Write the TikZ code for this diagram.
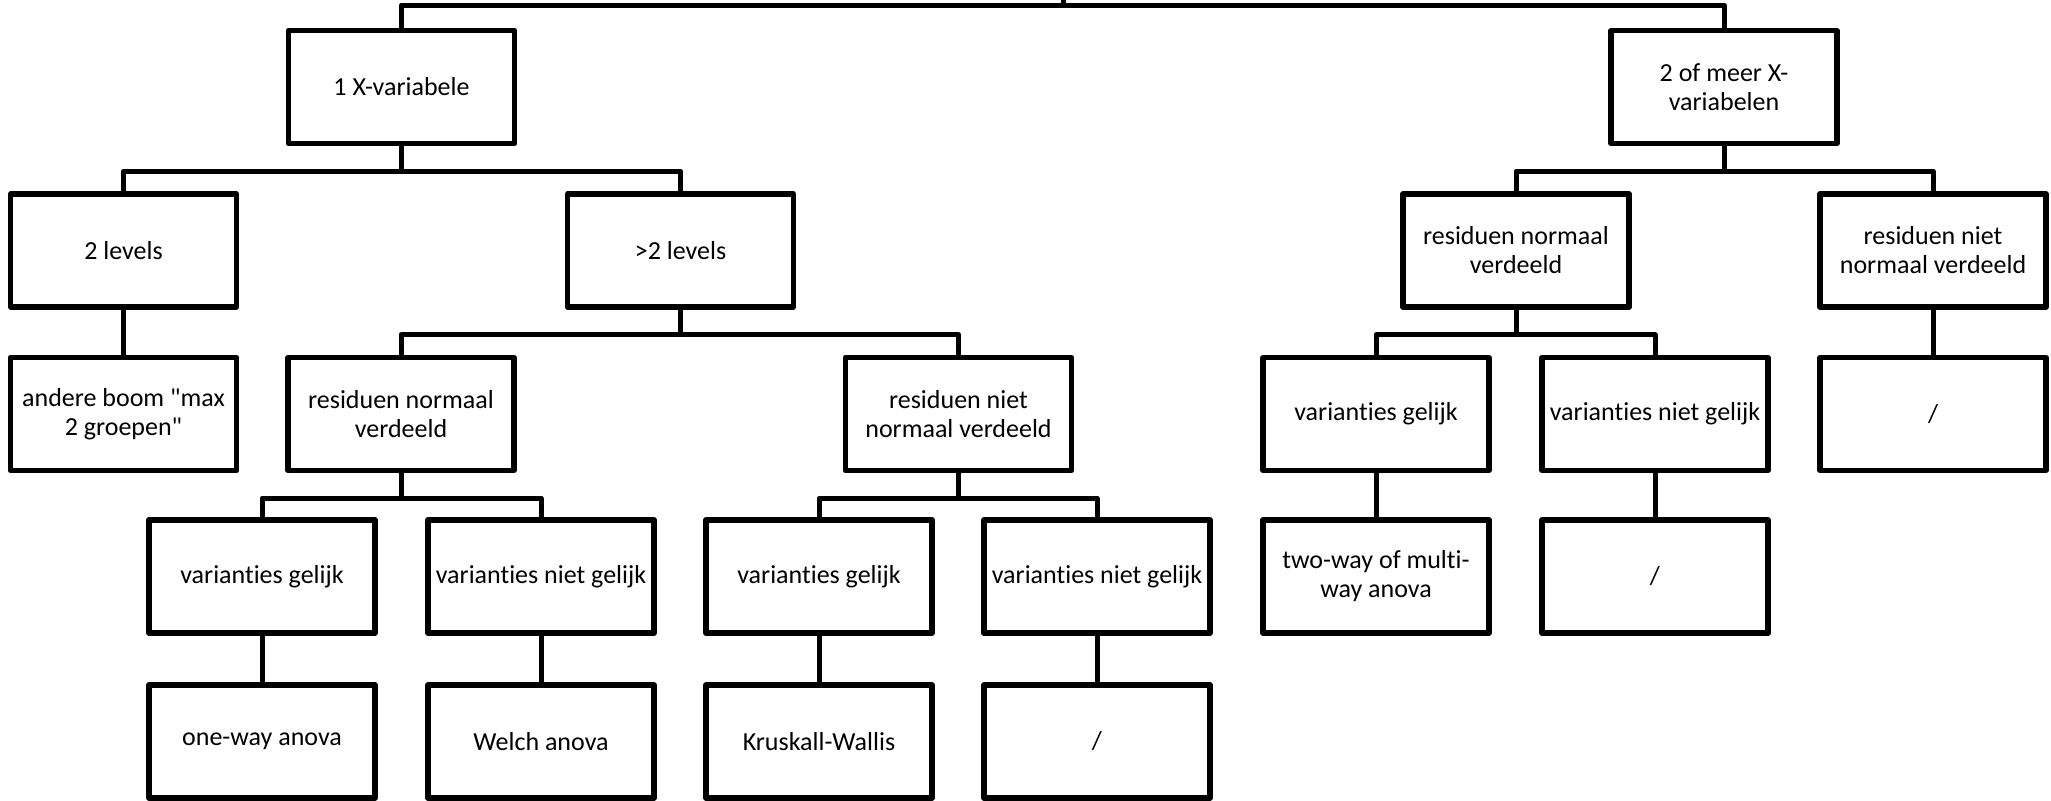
\documentclass[tikz,border=0pt]{standalone}
\usepackage{fontspec}
\setmainfont{Carlito}[Ligatures=NoCommon]
\usetikzlibrary{
  positioning,
  calc}
\tikzset{
  %% decision : one box of the decision tree
  decision/.style={
    rectangle,
    draw=black,
    line width=2.7pt,
    line join=round,
    minimum width=113pt,
    minimum height=56.5pt,
    inner sep=1pt,
    align=center,
    font=\fontsize{13}{14.5}\selectfont
  },
  %% connector : elbow line from a box to the boxes below it
  connector/.style={line width=2.5pt, line join=round}
}

\begin{document}
\begin{tikzpicture}
  [x=0.5pt,
  y=-0.5pt]

  \useasboundingbox (0,0) rectangle (2051,800);

  %% Grid for orientation. Comment out for final figure!
  % \draw[help lines, green](0, 0) grid[step=100] (2051, 800);

  %% First level
  \node (x1) [decision] at (401.5,87) {1 X-variabele};
  \node (x2) [decision] at (1724,87) {2 of meer X-\\variabelen};

  %% One X variable
  \node (lev2) [decision] at (123.5,250.5) {2 levels};
  \node (lev3) [decision] at (680.5,250.5) {>2 levels};
  \node (other) [decision] at (123.5,414) {%
    andere boom \textquotedbl max\\2 groepen\textquotedbl};
  \node (normL) [decision] at (401,414) {residuen normaal\\verdeeld};
  \node (nonormL) [decision] at (958.5,414) {residuen niet\\normaal verdeeld};

  \node (eqA) [decision] at (262,576.5) {varianties gelijk};
  \node (neqA) [decision] at (541,576.5) {varianties niet gelijk};
  \node (eqB) [decision] at (819,576.5) {varianties gelijk};
  \node (neqB) [decision] at (1097,576.5) {varianties niet gelijk};

  \node (oneway) [decision] at (262,741.5) {one-way anova};
  \node (welch) [decision] at (541,741.5) {Welch anova};
  \node (kruskal) [decision] at (819,741.5) {Kruskall-Wallis};
  \node (noneB) [decision] at (1097,741.5) {/};

  %% Two or more X variables
  \node (normR) [decision] at (1516,250.5) {residuen normaal\\verdeeld};
  \node (nonormR) [decision] at (1933,250.5) {residuen niet\\normaal verdeeld};
  \node (noneR) [decision] at (1933,414) {/};

  \node (eqR) [decision] at (1376,414) {varianties gelijk};
  \node (neqR) [decision] at (1655,414) {varianties niet gelijk};
  \node (twoway) [decision] at (1376,576.5) {two-way of multi-\\way anova};
  \node (noneC) [decision] at (1655,576.5) {/};

  %% Connections
  \coordinate (rootbar) at (1063,5);
  \coordinate (root) at (1063,-10);
  \draw [connector] (root) -- (rootbar);
  \draw [connector] (x1.north) |- (rootbar) -| (x2.north);

  \draw [connector] (x1.south) -- ++(0,25) -| (lev2.north);
  \draw [connector] (x1.south) -- ++(0,25) -| (lev3.north);
  \draw [connector] (lev2) -- (other);
  \draw [connector] (lev3.south) -- ++(0,25) -| (normL.north);
  \draw [connector] (lev3.south) -- ++(0,25) -| (nonormL.north);

  \draw [connector] (normL.south) -- ++(0,25) -| (eqA.north);
  \draw [connector] (normL.south) -- ++(0,25) -| (neqA.north);
  \draw [connector] (nonormL.south) -- ++(0,25) -| (eqB.north);
  \draw [connector] (nonormL.south) -- ++(0,25) -| (neqB.north);
  \draw [connector] (eqA) -- (oneway);
  \draw [connector] (neqA) -- (welch);
  \draw [connector] (eqB) -- (kruskal);
  \draw [connector] (neqB) -- (noneB);

  \draw [connector] (x2.south) -- ++(0,25) -| (normR.north);
  \draw [connector] (x2.south) -- ++(0,25) -| (nonormR.north);
  \draw [connector] (nonormR) -- (noneR);
  \draw [connector] (normR.south) -- ++(0,25) -| (eqR.north);
  \draw [connector] (normR.south) -- ++(0,25) -| (neqR.north);
  \draw [connector] (eqR) -- (twoway);
  \draw [connector] (neqR) -- (noneC);

\end{tikzpicture}
\end{document}
